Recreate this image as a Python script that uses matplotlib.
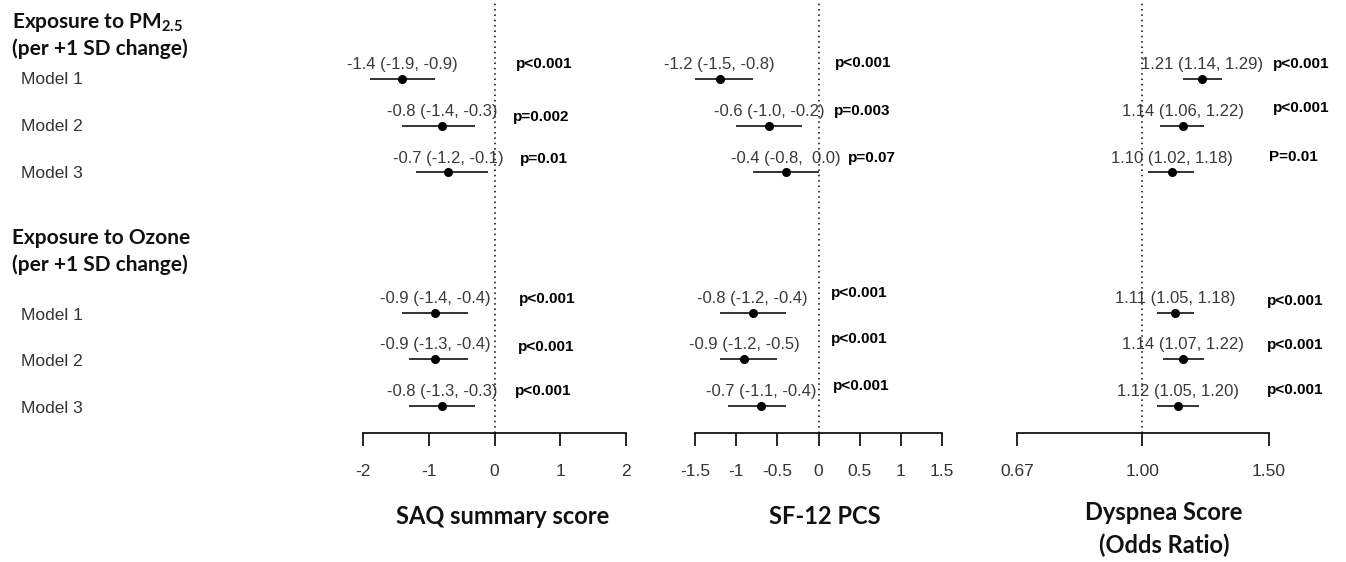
import numpy as np
import matplotlib
matplotlib.use("Agg")
import matplotlib.pyplot as plt
from matplotlib.transforms import offset_copy

plt.rcParams["font.family"] = ["Liberation Sans", "DejaVu Sans"]
plt.rcParams["mathtext.fontset"] = "custom"
plt.rcParams["mathtext.rm"] = "Lato"
plt.rcParams["mathtext.bf"] = "Lato:bold"

# ---- data ----
models = ["Model 1", "Model 2", "Model 3"]
exposures = [r"Exposure to PM$_{\mathbf{2.5}}$", "Exposure to Ozone"]

saq_est = [-1.4, -0.8, -0.7, -0.9, -0.9, -0.8]
saq_lo = [-1.9, -1.4, -1.2, -1.4, -1.3, -1.3]
saq_hi = [-0.9, -0.3, -0.1, -0.4, -0.4, -0.3]
saq_p = ["p<0.001", "p=0.002", "p=0.01", "p<0.001", "p<0.001", "p<0.001"]

sf12_est = [-1.2, -0.6, -0.4, -0.8, -0.9, -0.7]
sf12_lo = [-1.5, -1.0, -0.8, -1.2, -1.2, -1.1]
sf12_hi = [-0.8, -0.2, 0.0, -0.4, -0.5, -0.4]
sf12_p = ["p<0.001", "p=0.003", "p=0.07", "p<0.001", "p<0.001", "p<0.001"]

dys_or = [1.21, 1.14, 1.10, 1.11, 1.14, 1.12]
dys_lo = [1.14, 1.06, 1.02, 1.05, 1.07, 1.05]
dys_hi = [1.29, 1.22, 1.18, 1.18, 1.22, 1.20]
dys_p = ["p<0.001", "p<0.001", "P=0.01", "p<0.001", "p<0.001", "p<0.001"]

saq_ticks = [-2, -1, 0, 1, 2]
sf12_ticks = [-1.5, -1, -0.5, 0, 0.5, 1, 1.5]
sf12_ticklabels = ["-1.5", "-1", "-0.5", "0", "0.5", "1", "1.5"]
dys_ticks = [0.67, 1.00, 1.50]
dys_ticklabels = ["0.67", "1.00", "1.50"]

# ---- layout (pixels in a 1346x562 canvas) ----
W, H = 1346, 562
rows = np.array([0, 1, 2, 5, 6, 7])          # two groups with a gap
row0_px, row_step = 79, 46.7
axis_px = 433
p_x = [[516, 513, 520, 519, 518, 515],
       [835, 834, 848, 831, 831, 833],
       [1273, 1273, 1269, 1267, 1267, 1267]]
p_y = [[64, 117, 159, 299, 347, 391],
       [63, 111, 158, 293, 339, 386],
       [64, 108, 157, 301, 345, 390]]

fig = plt.figure(figsize=(W / 100, H / 100), dpi=100)

panels = [
    dict(px=(363, 626), est=saq_est, lo=saq_lo, hi=saq_hi, p=saq_p,
         lim=(-2, 2), ref=0, ticks=saq_ticks,
         tl=[str(t) for t in saq_ticks], log=False,
         fmt="{:4.1f} ({:4.1f}, {:4.1f})"),
    dict(px=(695, 942), est=sf12_est, lo=sf12_lo, hi=sf12_hi, p=sf12_p,
         lim=(-1.5, 1.5), ref=0, ticks=sf12_ticks, tl=sf12_ticklabels,
         log=False, fmt="{:4.1f} ({:4.1f}, {:4.1f})"),
    dict(px=(1017, 1269), est=dys_or, lo=dys_lo, hi=dys_hi, p=dys_p,
         lim=(0.67, 1.5), ref=1.0, ticks=dys_ticks, tl=dys_ticklabels,
         log=True, fmt="{:.2f} ({:.2f}, {:.2f})"),
]

ytop = -row0_px / row_step
ybot = (axis_px - row0_px) / row_step

for k, pn in enumerate(panels):
    x0, x1 = pn["px"]
    ax = fig.add_axes([x0 / W, (H - axis_px) / H, (x1 - x0) / W, axis_px / H])
    if pn["log"]:
        ax.set_xscale("log")
    ax.set_xlim(*pn["lim"])
    ax.set_ylim(ybot, ytop)
    for s in ["top", "left", "right"]:
        ax.spines[s].set_visible(False)
    ax.spines["bottom"].set_linewidth(1.2)
    ax.set_yticks([])
    ax.set_xticks(pn["ticks"])
    ax.minorticks_off()
    ax.set_xticklabels(pn["tl"])
    ax.tick_params(axis="x", length=9, width=1.2, pad=13, labelsize=12.5,
                   labelcolor="#333333")
    ax.axvline(pn["ref"], color="black", linestyle=(0, (1, 2.5)), linewidth=1.1)

    ax.hlines(rows, pn["lo"], pn["hi"], color="#111111", linewidth=1.2)
    ax.plot(pn["est"], rows, "o", color="black", markersize=5.5)

    lab_tr = offset_copy(ax.transData, fig=fig, x=0, y=10.3, units="points")
    for r, e, lo, hi in zip(rows, pn["est"], pn["lo"], pn["hi"]):
        ax.text(e, r, pn["fmt"].format(e, lo, hi), transform=lab_tr,
                ha="center", va="center", fontsize=12, color="#3a3a3a")

    for i, ptxt in enumerate(pn["p"]):
        fig.text(p_x[k][i] / W, 1 - p_y[k][i] / H, ptxt, ha="left",
                 va="center", fontsize=11, fontweight="bold", color="black")

# left-hand labels
head_kw = dict(fontsize=15, fontweight="bold", family="Lato", color="#111111",
               ha="left", va="center")
fig.text(12 / W, 1 - 23 / H, exposures[0], **head_kw)
fig.text(12 / W, 1 - 49 / H, "(per +1 SD change)", **head_kw)
fig.text(12 / W, 1 - 238 / H, exposures[1], **head_kw)
fig.text(12 / W, 1 - 265 / H, "(per +1 SD change)", **head_kw)
for g, base in enumerate([80, 315]):
    for j, m in enumerate(models):
        fig.text(21 / W, 1 - (base + j * row_step) / H, m, fontsize=12.5,
                 color="#333333", ha="left", va="center")

# x-axis titles
title_kw = dict(fontsize=17, fontweight="bold", family="Lato",
                color="#111111", ha="center", va="center")
fig.text(503 / W, 1 - 517 / H, "SAQ summary score", **title_kw)
fig.text(825 / W, 1 - 517 / H, "SF-12 PCS", **title_kw)
fig.text(1164 / W, 1 - 513 / H, "Dyspnea Score", **title_kw)
fig.text(1164 / W, 1 - 545 / H, "(Odds Ratio)", **title_kw)

fig.savefig("out.png", dpi=100, facecolor="white")
